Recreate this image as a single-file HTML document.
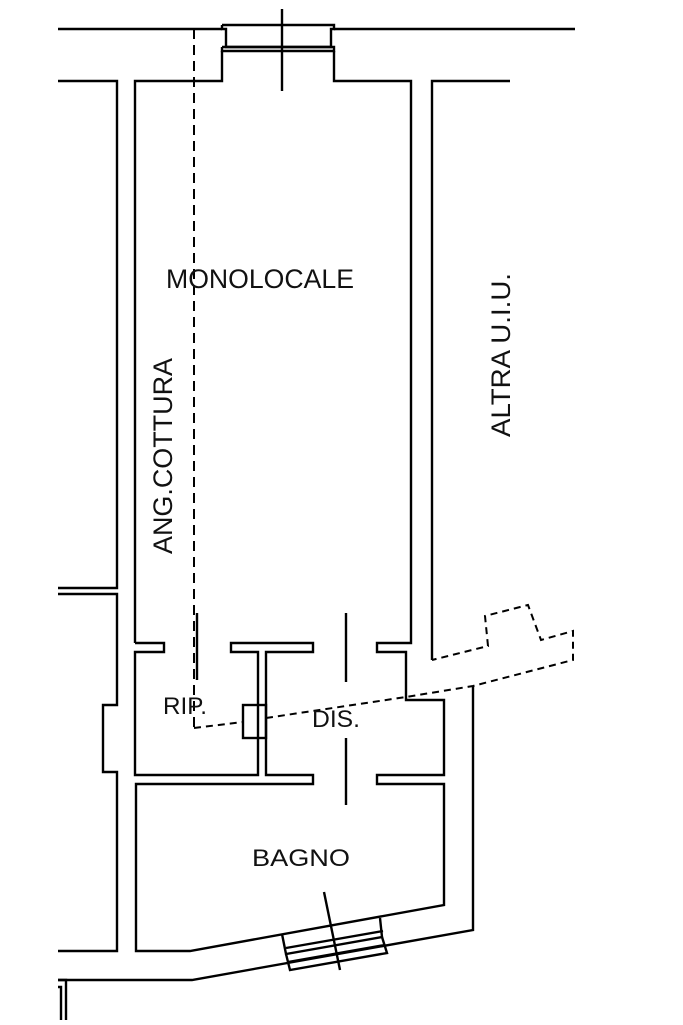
<!DOCTYPE html>
<html><head><meta charset="utf-8"><style>html,body{margin:0;padding:0;background:#fff}svg{display:block}</style></head>
<body>
<svg width="683" height="1025" viewBox="0 0 683 1025" xmlns="http://www.w3.org/2000/svg">
<g fill="none" stroke="#000" stroke-width="2.4">
<polyline points="58,29 222,29"/>
<polyline points="334,29 575,29"/>
<polyline points="222,25 334,25 334,29 331,29 331,47 226,47 226,29 222,29 222,25"/>
<polyline points="222,47 334,47 334,51 222,51 222,47"/>
<line x1="282" y1="9" x2="282" y2="91"/>
<polyline points="58,81 117,81 117,588 58,588"/>
<polyline points="58,594 117,594 117,705 103,705 103,772 117,772 117,951 58,951"/>
<polyline points="135,643 135,81 222,81 222,51"/>
<polyline points="334,51 334,81 411,81 411,643 377,643 377,652 406,652 406,700 444,700 444,775 377,775 377,784 444,784 444,905 190,951 136,951 136,784 313,784 313,775 266,775 266,652 313,652 313,643 231,643 231,652 258,652 258,775 135,775 135,652 164,652 164,643 135,643"/>
<polyline points="510,81 432,81 432,660"/>
<polyline points="473,686 473,930 192,980 58,980"/>
<polyline points="58,980 66,980 66,1020"/>
<polyline points="58,987 61,987 61,1020"/>
<line x1="197" y1="613" x2="197" y2="680"/>
<line x1="346" y1="613" x2="346" y2="682"/>
<line x1="346" y1="738" x2="346" y2="805"/>
<rect x="243" y="705" width="23" height="33"/>
<polyline points="282,934 286,954 382,937 380,918"/>
<polyline points="286,954 290,970 387,953 382,937"/>
<line x1="286" y1="948" x2="383" y2="931"/>
<line x1="288" y1="962" x2="385" y2="945"/>
<line x1="324" y1="892" x2="340" y2="970"/>
</g>
<g fill="none" stroke="#000" stroke-width="2">
<polyline stroke-dasharray="10,6" points="194,29 194,728"/>
<polyline stroke-dasharray="7,5" points="194,728 243,722"/>
<polyline stroke-dasharray="7,5" points="266,718 406,697 473,686 573,660 573,631 541,640 528,605 485,616 488,646 432,660"/>
</g>
<g font-family="Liberation Sans, sans-serif" font-size="27" fill="#111">
<text x="166" y="288" textLength="188" lengthAdjust="spacingAndGlyphs">MONOLOCALE</text>
<text transform="translate(172,554) rotate(-90)" textLength="196" lengthAdjust="spacingAndGlyphs">ANG.COTTURA</text>
<text transform="translate(510,437) rotate(-90)" textLength="164" lengthAdjust="spacingAndGlyphs">ALTRA U.I.U.</text>
<text x="163" y="714" font-size="24" textLength="44" lengthAdjust="spacingAndGlyphs">RIP.</text>
<text x="312" y="727" font-size="24" textLength="48" lengthAdjust="spacingAndGlyphs">DIS.</text>
<text x="252" y="866" font-size="24" textLength="98" lengthAdjust="spacingAndGlyphs">BAGNO</text>
</g>
</svg>
</body></html>
